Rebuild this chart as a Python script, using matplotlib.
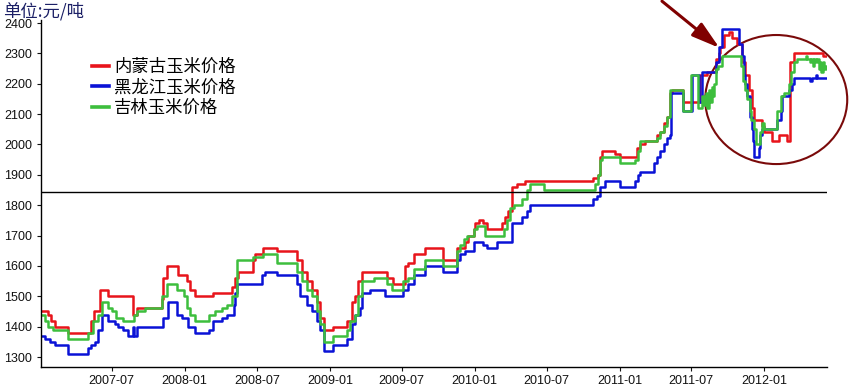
#!/usr/bin/env python3
"""Цены на кукурузу: Внутренняя Монголия / Хэйлунцзян / Цзилинь, 2007-2012."""
import matplotlib

matplotlib.use("Agg")
import matplotlib.dates as mdates
import matplotlib.pyplot as plt
import pandas as pd
from matplotlib.patches import Ellipse

plt.rcParams["font.family"] = ["Liberation Sans", "Noto Sans CJK SC", "DejaVu Sans"]

# 内蒙古 (weekly change points, steps)
nm_dates = [
    "2007-01-01", "2007-01-22", "2007-01-30", "2007-02-08", "2007-03-13", "2007-05-11",
    "2007-05-18", "2007-06-01", "2007-06-22", "2007-08-24", "2007-09-02", "2007-11-04",
    "2007-11-08", "2007-11-17", "2007-12-16", "2008-01-06", "2008-01-14", "2008-01-27",
    "2008-03-13", "2008-04-29", "2008-05-07", "2008-05-15", "2008-06-22", "2008-06-26",
    "2008-07-17", "2008-08-20", "2008-10-09", "2008-10-22", "2008-11-04", "2008-11-16",
    "2008-11-29", "2008-12-07", "2008-12-16", "2009-01-10", "2009-02-13", "2009-02-25",
    "2009-03-06", "2009-03-14", "2009-03-22", "2009-05-25", "2009-06-10", "2009-07-10",
    "2009-07-18", "2009-07-31", "2009-08-29", "2009-10-14", "2009-11-17", "2009-12-08",
    "2009-12-16", "2009-12-29", "2010-01-02", "2010-01-11", "2010-01-23", "2010-02-02",
    "2010-03-11", "2010-03-19", "2010-03-27", "2010-04-05", "2010-04-18", "2010-05-09",
    "2010-10-27", "2010-11-08", "2010-11-14", "2010-11-17", "2010-12-21", "2011-01-02",
    "2011-02-13", "2011-02-22", "2011-03-07", "2011-04-06", "2011-04-14", "2011-04-22",
    "2011-05-01", "2011-05-09", "2011-05-13", "2011-06-09", "2011-07-24", "2011-08-10",
    "2011-08-31", "2011-09-08", "2011-09-12", "2011-09-22", "2011-10-03", "2011-10-12",
    "2011-10-24", "2011-11-06", "2011-11-14", "2011-11-23", "2011-12-01", "2011-12-06",
    "2011-12-27", "2011-12-31", "2012-01-21", "2012-02-07", "2012-02-26", "2012-03-05",
    "2012-03-15", "2012-05-28", "2012-06-08",
]
nm_vals = [
    1450, 1440, 1420, 1400, 1380, 1420,
    1450, 1520, 1500, 1440, 1460, 1490,
    1560, 1600, 1570, 1550, 1520, 1500,
    1510, 1530, 1560, 1580, 1620, 1640,
    1660, 1650, 1620, 1580, 1550, 1520,
    1480, 1430, 1390, 1400, 1420, 1480,
    1500, 1550, 1580, 1560, 1540, 1600,
    1610, 1640, 1660, 1620, 1660, 1680,
    1700, 1720, 1740, 1750, 1740, 1720,
    1740, 1760, 1780, 1860, 1870, 1880,
    1890, 1900, 1960, 1980, 1970, 1960,
    1990, 2000, 2010, 2030, 2040, 2070,
    2090, 2170, 2180, 2140, 2230, 2240,
    2280, 2300, 2320, 2360, 2370, 2350,
    2330, 2270, 2230, 2180, 2120, 2080,
    2060, 2040, 2010, 2030, 2010, 2270,
    2300, 2290, 2290,
]

# 黑龙江
hlj_dates = [
    "2007-01-01", "2007-01-14", "2007-01-26", "2007-02-08", "2007-03-13", "2007-05-03",
    "2007-05-11", "2007-05-20", "2007-05-28", "2007-06-06", "2007-06-22", "2007-07-09",
    "2007-07-18", "2007-07-30", "2007-08-12", "2007-08-24", "2007-08-27", "2007-09-03",
    "2007-11-08", "2007-11-21", "2007-12-12", "2007-12-24", "2008-01-10", "2008-01-27",
    "2008-03-01", "2008-03-13", "2008-04-03", "2008-04-16", "2008-05-03", "2008-05-07",
    "2008-05-11", "2008-07-13", "2008-07-22", "2008-08-20", "2008-10-09", "2008-10-18",
    "2008-11-04", "2008-11-16", "2008-11-29", "2008-12-07", "2008-12-16", "2009-01-10",
    "2009-02-13", "2009-02-25", "2009-03-06", "2009-03-18", "2009-03-22", "2009-04-12",
    "2009-05-20", "2009-07-05", "2009-07-18", "2009-07-31", "2009-08-29", "2009-10-14",
    "2009-11-17", "2009-11-26", "2009-12-08", "2009-12-29", "2010-01-23", "2010-02-01",
    "2010-02-26", "2010-04-05", "2010-04-30", "2010-05-13", "2010-05-21", "2010-10-27",
    "2010-11-04", "2010-11-13", "2010-11-25", "2011-01-02", "2011-02-09", "2011-02-17",
    "2011-02-22", "2011-03-28", "2011-04-06", "2011-04-14", "2011-04-22", "2011-05-01",
    "2011-05-08", "2011-05-11", "2011-06-09", "2011-07-03", "2011-07-20", "2011-07-28",
    "2011-08-31", "2011-09-08", "2011-09-17", "2011-10-29", "2011-11-06", "2011-11-10",
    "2011-11-14", "2011-11-19", "2011-11-27", "2011-12-01", "2011-12-03", "2011-12-06",
    "2011-12-18", "2011-12-22", "2011-12-27", "2012-02-02", "2012-02-11", "2012-02-15",
    "2012-03-03", "2012-03-11", "2012-03-15", "2012-04-26", "2012-05-01", "2012-05-09",
    "2012-05-13", "2012-06-08",
]
hlj_vals = [
    1370, 1360, 1350, 1340, 1310, 1330,
    1340, 1350, 1390, 1440, 1420, 1410,
    1400, 1390, 1370, 1400, 1370, 1400,
    1430, 1480, 1440, 1430, 1400, 1380,
    1390, 1420, 1430, 1440, 1470, 1510,
    1540, 1570, 1580, 1570, 1540, 1500,
    1470, 1450, 1420, 1390, 1320, 1340,
    1360, 1410, 1440, 1460, 1510, 1520,
    1500, 1520, 1540, 1570, 1600, 1580,
    1620, 1640, 1650, 1680, 1670, 1660,
    1680, 1740, 1760, 1780, 1800, 1820,
    1830, 1860, 1880, 1860, 1880, 1900,
    1910, 1940, 1960, 1980, 2000, 2020,
    2030, 2170, 2110, 2230, 2140, 2240,
    2270, 2320, 2380, 2330, 2290, 2230,
    2200, 2160, 2090, 2050, 2010, 1960,
    1990, 2030, 2050, 2080, 2110, 2160,
    2180, 2200, 2220, 2210, 2220, 2230,
    2220, 2220,
]

# 吉林
jl_dates = [
    "2007-01-01", "2007-01-14", "2007-01-22", "2007-02-04", "2007-03-13", "2007-05-03",
    "2007-05-15", "2007-05-28", "2007-06-06", "2007-06-22", "2007-07-01", "2007-07-13",
    "2007-07-30", "2007-08-26", "2007-09-03", "2007-09-22", "2007-11-04", "2007-11-17",
    "2007-12-12", "2007-12-29", "2008-01-06", "2008-01-14", "2008-01-27", "2008-03-01",
    "2008-03-17", "2008-04-03", "2008-04-16", "2008-04-29", "2008-05-11", "2008-06-22",
    "2008-07-17", "2008-08-20", "2008-10-09", "2008-10-22", "2008-11-04", "2008-11-16",
    "2008-11-29", "2008-12-07", "2008-12-16", "2009-01-10", "2009-02-13", "2009-02-21",
    "2009-03-06", "2009-03-14", "2009-03-22", "2009-04-21", "2009-05-25", "2009-06-06",
    "2009-07-05", "2009-07-18", "2009-07-31", "2009-08-29", "2009-10-14", "2009-11-17",
    "2009-11-26", "2009-12-04", "2009-12-12", "2009-12-29", "2010-01-07", "2010-01-28",
    "2010-03-15", "2010-03-23", "2010-04-01", "2010-04-09", "2010-04-30", "2010-05-13",
    "2010-05-21", "2010-06-24", "2010-11-01", "2010-11-08", "2010-11-13", "2010-11-17",
    "2011-01-02", "2011-02-09", "2011-02-17", "2011-02-22", "2011-04-06", "2011-04-14",
    "2011-04-22", "2011-05-01", "2011-05-09", "2011-06-09", "2011-06-29", "2011-07-17",
    "2011-07-29", "2011-08-02", "2011-08-06", "2011-08-10", "2011-08-14", "2011-08-17",
    "2011-08-21", "2011-08-25", "2011-08-28", "2011-08-31", "2011-09-05", "2011-09-17",
    "2011-11-02", "2011-11-09", "2011-11-14", "2011-11-19", "2011-11-25", "2011-11-29",
    "2011-12-06", "2011-12-12", "2011-12-22", "2011-12-27", "2011-12-31", "2012-02-02",
    "2012-02-11", "2012-02-19", "2012-03-03", "2012-03-07", "2012-03-15", "2012-03-24",
    "2012-04-14", "2012-04-18", "2012-04-25", "2012-04-28", "2012-05-02", "2012-05-05",
    "2012-05-09", "2012-05-13", "2012-05-17", "2012-05-20", "2012-05-24", "2012-05-27",
    "2012-05-31", "2012-06-04", "2012-06-08",
]
jl_vals = [
    1440, 1420, 1400, 1390, 1360, 1380,
    1420, 1440, 1480, 1460, 1450, 1430,
    1420, 1440, 1450, 1460, 1500, 1540,
    1520, 1500, 1460, 1440, 1420, 1440,
    1450, 1460, 1470, 1500, 1620, 1630,
    1640, 1610, 1580, 1550, 1520, 1500,
    1450, 1410, 1350, 1370, 1390, 1420,
    1440, 1500, 1550, 1560, 1540, 1520,
    1550, 1560, 1590, 1620, 1600, 1650,
    1670, 1690, 1700, 1720, 1730, 1700,
    1720, 1750, 1790, 1800, 1820, 1850,
    1870, 1850, 1870, 1900, 1950, 1960,
    1940, 1950, 1980, 2010, 2020, 2040,
    2060, 2090, 2180, 2110, 2230, 2120,
    2160, 2130, 2170, 2120, 2180, 2140,
    2190, 2160, 2200, 2250, 2260, 2290,
    2260, 2210, 2180, 2150, 2110, 2080,
    2050, 2000, 2040, 2070, 2050, 2110,
    2160, 2170, 2200, 2240, 2270, 2280,
    2290, 2280, 2270, 2280, 2260, 2280,
    2270, 2280, 2250, 2270, 2240, 2270,
    2250, 2260, 2260,
]

labels = ["内蒙古玉米价格", "黑龙江玉米价格", "吉林玉米价格"]
colors = ["#e8141b", "#0a12d6", "#3dbe3d"]
y_ticks = list(range(1300, 2401, 100))
ref_level = 1845


def main() -> None:
    fig = plt.figure(figsize=(8.57, 3.88), dpi=100)
    ax = fig.add_axes([0.0475, 0.054, 0.9175, 0.8945])

    series = [(nm_dates, nm_vals), (hlj_dates, hlj_vals), (jl_dates, jl_vals)]
    for (d, v), lab, c in zip(series, labels, colors):
        ax.plot(pd.to_datetime(d), v, drawstyle="steps-post", color=c, lw=1.8, label=lab)

    ax.axhline(ref_level, color="black", lw=1.0)

    ax.set_xlim(pd.Timestamp("2007-01-03"), pd.Timestamp("2012-06-07"))
    ax.set_ylim(1267, 2410)
    ax.set_yticks(y_ticks)
    ax.xaxis.set_major_locator(mdates.MonthLocator(bymonth=[1, 7]))
    ax.xaxis.set_major_formatter(mdates.DateFormatter("%Y-%m"))
    ax.tick_params(axis="both", labelsize=9, colors="#111111", length=3, width=0.8, pad=3)
    for side in ("top", "right"):
        ax.spines[side].set_visible(False)
    for side in ("left", "bottom"):
        ax.spines[side].set_linewidth(1.0)

    # выделение последнего участка
    ell = Ellipse((mdates.date2num(pd.Timestamp("2012-01-31")), 2148), width=358, height=425,
                  fill=False, edgecolor="#7a0a0a", lw=1.5, clip_on=False)
    ax.add_patch(ell)
    ax.annotate("", xy=(pd.Timestamp("2011-09-10"), 2318), xytext=(pd.Timestamp("2011-04-18"), 2472),
                arrowprops=dict(arrowstyle="-|>,head_length=1.7,head_width=0.5", color="#800000",
                                lw=2.2, shrinkA=0, shrinkB=0), annotation_clip=False)

    leg = ax.legend(loc="upper left", bbox_to_anchor=(83 / 857, 1 - 49 / 388),
                    bbox_transform=fig.transFigure, frameon=False, handlelength=1.0,
                    handletextpad=0.3, labelspacing=0.15, borderpad=0,
                    prop={"family": ["Noto Sans CJK SC"], "size": 12.5})
    for h in leg.get_lines():
        h.set_linewidth(2.6)

    fig.text(3 / 857, 1 - 11 / 388, "单位:元/吨", fontsize=12.5, color="#1c2066", va="center",
             family=["Noto Sans CJK SC"])

    fig.savefig("out.png", dpi=100)
    plt.close(fig)


if __name__ == "__main__":
    main()
